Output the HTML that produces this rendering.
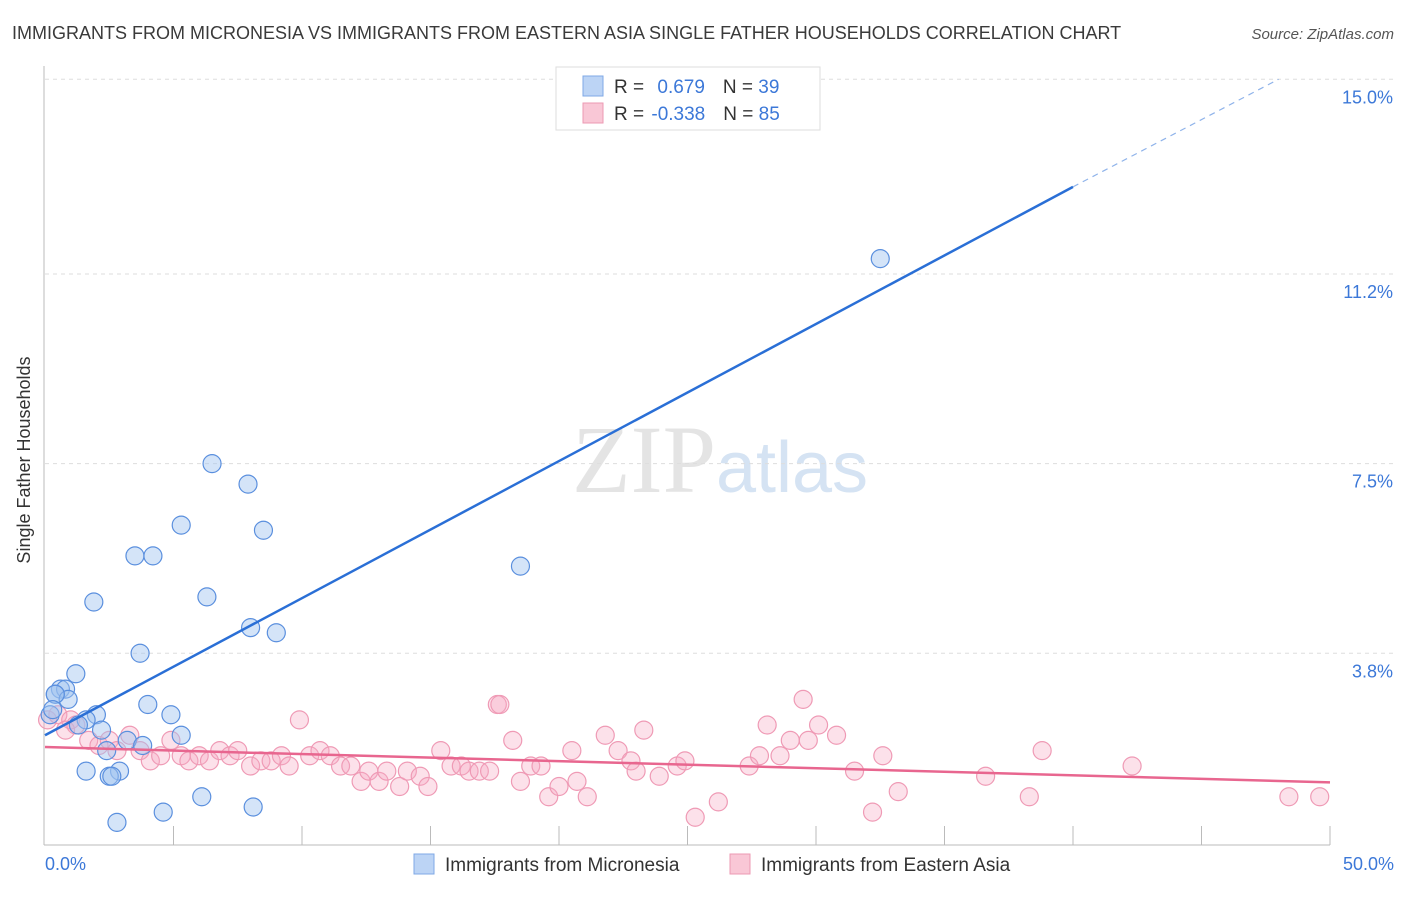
<!DOCTYPE html>
<html><head><meta charset="utf-8"><style>
body{margin:0;background:#fff;font-family:"Liberation Sans",sans-serif;}
</style></head><body>
<svg width="1406" height="892" xmlns="http://www.w3.org/2000/svg">
<text x="12" y="39" font-size="18" fill="#3a3a3a">IMMIGRANTS FROM MICRONESIA VS IMMIGRANTS FROM EASTERN ASIA SINGLE FATHER HOUSEHOLDS CORRELATION CHART</text>
<text x="1394" y="39" font-size="15" fill="#555" text-anchor="end" font-style="italic">Source: ZipAtlas.com</text>
<text x="720" y="492" font-size="96" fill="#e4e4e4" text-anchor="middle" font-family="Liberation Serif,serif">ZIP<tspan fill="#d5e3f3" font-family="Liberation Sans,sans-serif" font-size="72">atlas</tspan></text>
<g id="grid"></g>
<line x1="44" y1="66" x2="44" y2="845" stroke="#bbb"/>
<line x1="44" y1="845" x2="1330" y2="845" stroke="#bbb"/>
<g id="xticks"></g>
<text x="30" y="460" font-size="18" fill="#333" text-anchor="middle" transform="rotate(-90 30 460)">Single Father Households</text>
<text x="45" y="870" font-size="18" fill="#3c78d8">0.0%</text>
<text x="1394" y="870" font-size="18" fill="#3c78d8" text-anchor="end">50.0%</text>
<g id="pts"></g>
<g id="lines"></g>
<g>
<rect x="556" y="67" width="264" height="63" fill="#fff" stroke="#ddd"/>
<rect x="583" y="76" width="20" height="20" fill="#bcd4f5" stroke="#7fa8e6"/>
<rect x="583" y="103" width="20" height="20" fill="#f9c7d6" stroke="#ec9ab3"/>
<text x="614" y="93" font-size="19" fill="#333">R = <tspan fill="#3c78d8" dx="8">0.679</tspan><tspan dx="18" fill="#333">N = </tspan><tspan fill="#3c78d8">39</tspan></text>
<text x="614" y="120" font-size="19" fill="#333">R = <tspan fill="#3c78d8" dx="2">-0.338</tspan><tspan dx="18" fill="#333">N = </tspan><tspan fill="#3c78d8">85</tspan></text>
</g>
<g>
<rect x="414" y="854" width="20" height="20" fill="#bcd4f5" stroke="#7fa8e6"/>
<text x="445" y="871" font-size="19" fill="#333">Immigrants from Micronesia</text>
<rect x="730" y="854" width="20" height="20" fill="#f9c7d6" stroke="#ec9ab3"/>
<text x="761" y="871" font-size="19" fill="#333">Immigrants from Eastern Asia</text>
</g>
</svg>
<script>
const yTicks=[3.8,7.5,11.2,15.0];
const yTickLabels=["3.8%","7.5%","11.2%","15.0%"];
const blueX=[32.5,6.5,7.9,5.3,8.5,3.5,4.2,18.5,1.9,6.3,8.0,9.0,3.7,1.2,0.6,0.8,0.4,0.9,4.0,2.0,0.2,1.6,4.9,1.3,2.2,5.3,3.2,3.8,2.4,1.6,2.9,2.5,2.6,6.1,8.1,4.6,2.8,0.4,0.3];
const blueY=[11.5,7.5,7.1,6.3,6.2,5.7,5.7,5.5,4.8,4.9,4.3,4.2,3.8,3.4,3.1,3.1,3.0,2.9,2.8,2.6,2.6,2.5,2.6,2.4,2.3,2.2,2.1,2.0,1.9,1.5,1.5,1.4,1.4,1.0,0.8,0.7,0.5,3.0,2.7];
const pinkX=[17.6,29.5,9.9,0.1,0.5,1.0,0.8,1.2,1.7,2.1,2.5,2.8,3.3,3.7,4.1,4.5,4.9,5.3,5.6,6.0,6.4,6.8,7.2,7.5,8.0,8.4,8.8,9.2,9.5,10.3,10.7,11.1,11.5,11.9,12.3,12.6,13.0,13.3,13.8,14.1,14.6,14.9,15.4,15.8,16.2,16.5,16.9,17.3,17.7,18.2,18.5,18.9,19.3,19.6,20.0,20.5,20.7,21.1,21.8,22.3,22.8,23.0,23.3,23.9,24.6,24.9,25.3,26.2,27.4,27.8,28.1,28.6,29.0,29.7,30.1,30.8,31.5,32.2,32.6,33.2,36.6,38.3,38.8,42.3,48.4,49.6];
const pinkY=[2.8,2.9,2.5,2.5,2.6,2.5,2.3,2.4,2.1,2.0,2.1,1.9,2.2,1.9,1.7,1.8,2.1,1.8,1.7,1.8,1.7,1.9,1.8,1.9,1.6,1.7,1.7,1.8,1.6,1.8,1.9,1.8,1.6,1.6,1.3,1.5,1.3,1.5,1.2,1.5,1.4,1.2,1.9,1.6,1.6,1.5,1.5,1.5,2.8,2.1,1.3,1.6,1.6,1.0,1.2,1.9,1.3,1.0,2.2,1.9,1.7,1.5,2.3,1.4,1.6,1.7,0.6,0.9,1.6,1.8,2.4,1.8,2.1,2.1,2.4,2.2,1.5,0.7,1.8,1.1,1.4,1.0,1.9,1.6,1.0,1.0];
const blueFit=[0.0,2.2,40.0,12.9,48.0,15.0];
const pinkFit=[0.0,1.97,50.0,1.28];
const NS="http://www.w3.org/2000/svg";
const sx=v=>45+v*25.7;
const sy=v=>848-v*51.25;
function mk(t,a,p){const e=document.createElementNS(NS,t);for(const k in a)e.setAttribute(k,a[k]);p.appendChild(e);return e;}
const grid=document.getElementById('grid');
yTicks.forEach((t,i)=>{
 const l=mk('line',{x1:45,x2:1394,y1:sy(t),y2:sy(t),stroke:'#ddd','stroke-dasharray':'4,4'},grid);
 
 
 const tx=mk('text',{x:1393,y:sy(t)+24,'font-size':18,fill:'#3c78d8','text-anchor':'end'},grid);
 tx.textContent=yTickLabels[i];
 
 
});
const xt=document.getElementById('xticks');
for(let i=1;i<=10;i++){
 const l=mk('line',{x1:sx(i*5),x2:sx(i*5),y1:826,y2:845,stroke:'#bbb'},xt);
 
 
}
const pts=document.getElementById('pts');
pinkX.forEach((x,i)=>{
 const c=mk('circle',{cx:sx(x),cy:sy(pinkY[i]),r:9,fill:'rgba(246,170,195,0.35)',stroke:'#ef9ab5','stroke-width':1.2},pts);
 
 
});
blueX.forEach((x,i)=>{
 const c=mk('circle',{cx:sx(x),cy:sy(blueY[i]),r:9,fill:'rgba(160,195,240,0.45)',stroke:'#5a8fde','stroke-width':1.2},pts);
 
 
});
const ln=document.getElementById('lines');
const b1=mk('line',{x1:sx(blueFit[0]),y1:sy(blueFit[1]),x2:sx(blueFit[2]),y2:sy(blueFit[3]),stroke:'#2a6fd6','stroke-width':2.5},ln);


const b2=mk('line',{x1:sx(blueFit[2]),y1:sy(blueFit[3]),x2:sx(blueFit[4]),y2:sy(blueFit[5]),stroke:'#8fb3ea','stroke-width':1.2,'stroke-dasharray':'6,5'},ln);


const p1=mk('line',{x1:sx(pinkFit[0]),y1:sy(pinkFit[1]),x2:sx(pinkFit[2]),y2:sy(pinkFit[3]),stroke:'#e8668f','stroke-width':2.5},ln);


</script>
</body></html>
